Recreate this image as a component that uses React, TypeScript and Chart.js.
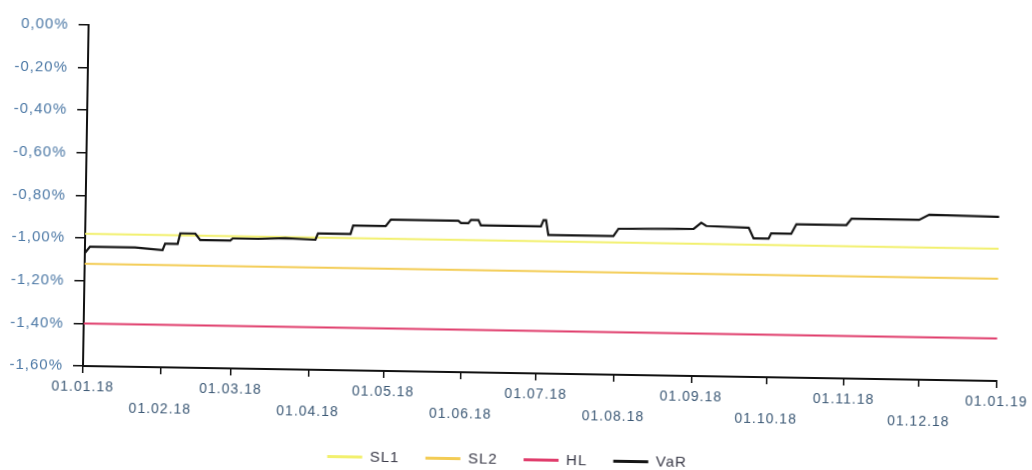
import { useEffect, useRef } from 'react';
import { Chart, registerables } from 'chart.js';

Chart.register(...registerables);

const monthLabels = ['01.01.18', '01.02.18', '01.03.18', '01.04.18', '01.05.18', '01.06.18', '01.07.18', '01.08.18', '01.09.18', '01.10.18', '01.11.18', '01.12.18', '01.01.19'];
const monthDays = [0, 31, 59, 90, 120, 151, 181, 212, 243, 273, 304, 334, 365];

const sl1Value = -0.98;
const sl2Value = -1.12;
const hlValue = -1.4;

const varDays = [0, 2, 20, 31, 32, 37, 38, 44, 46, 58, 59, 69, 80, 92, 93, 106, 107, 120, 122, 149, 150, 153, 154, 157, 158, 182, 183, 184, 185, 211, 213, 243, 246, 248, 265, 267, 273, 274, 282, 284, 304, 306, 333, 337, 365];
const varValues = [-1.07, -1.04, -1.04, -1.05, -1.02, -1.02, -0.97, -0.97, -1.0, -1.0, -0.99, -0.99, -0.985, -0.99, -0.96, -0.96, -0.92, -0.92, -0.89, -0.89, -0.9, -0.9, -0.885, -0.885, -0.91, -0.91, -0.88, -0.88, -0.95, -0.95, -0.915, -0.91, -0.88, -0.895, -0.9, -0.95, -0.95, -0.925, -0.925, -0.88, -0.88, -0.85, -0.85, -0.825, -0.83];

const FONT = "'Liberation Sans', Arial, sans-serif";

export default function App() {
  const ref = useRef<HTMLCanvasElement>(null);

  useEffect(() => {
    document.body.style.margin = '0';
    const limit = (v: number) => [{ x: monthDays[0], y: v }, { x: monthDays[monthDays.length - 1], y: v }];

    const setSpacing = (chart: any) => {
      try {
        chart.ctx.letterSpacing = '1px';
      } catch (e) {
        /* ignore */
      }
    };

    const helpers = {
      id: 'helpers',
      beforeUpdate(chart: any) {
        setSpacing(chart);
      },
      beforeLayout(chart: any) {
        setSpacing(chart);
      },
      beforeDraw(chart: any) {
        setSpacing(chart);
      },
      afterLayout(chart: any) {
        const l = chart.legend;
        if (!l) return;
        const dx = 508.5 - (l.left + l.right) / 2;
        l.left += dx;
        l.right += dx;
      },
    };

    const chart = new Chart(ref.current as HTMLCanvasElement, {
      type: 'line',
      data: {
        datasets: [
          { label: 'SL1', data: limit(sl1Value), borderColor: '#f2f06e', backgroundColor: '#f2f06e', borderWidth: 2, pointRadius: 0 },
          { label: 'SL2', data: limit(sl2Value), borderColor: '#f3cc55', backgroundColor: '#f3cc55', borderWidth: 2, pointRadius: 0 },
          { label: 'HL', data: limit(hlValue), borderColor: '#e03d6c', backgroundColor: '#e03d6c', borderWidth: 2, pointRadius: 0 },
          {
            label: 'VaR',
            data: varDays.map((d, i) => ({ x: d, y: varValues[i] })),
            borderColor: '#151515',
            backgroundColor: '#151515',
            borderWidth: 2.2,
            pointRadius: 0,
            order: -1,
          },
        ],
      },
      options: {
        animation: false,
        responsive: true,
        maintainAspectRatio: false,
        layout: { padding: { top: 25, right: 34, left: 0, bottom: 0 } },
        plugins: {
          tooltip: { enabled: false },
          legend: {
            position: 'bottom',
            labels: {
              boxWidth: 35,
              boxHeight: 3,
              padding: 26,
              color: '#3a3a48',
              font: { size: 15, family: FONT },
              generateLabels: (c: any) =>
                (Chart.defaults.plugins.legend.labels.generateLabels as any)(c).map((it: any) => ({ ...it, lineWidth: 0 })),
              sort: (a: any, b: any) => a.datasetIndex - b.datasetIndex,
            },
          },
        },
        scales: {
          x: {
            type: 'linear',
            min: monthDays[0],
            max: monthDays[monthDays.length - 1],
            afterBuildTicks: (s: any) => {
              s.ticks = monthDays.map((v) => ({ value: v }));
            },
            afterFit: (s: any) => {
              s.height = 53;
            },
            grid: { display: true, drawOnChartArea: false, drawTicks: true, tickLength: 7, color: '#111', lineWidth: 1.5 },
            border: { display: true, color: '#111', width: 2 },
            ticks: {
              autoSkip: false,
              maxRotation: 0,
              minRotation: 0,
              padding: 4,
              color: '#3b5875',
              font: { size: 14, family: FONT, lineHeight: 1.5 },
              callback: (_v: any, i: number) => (i % 2 ? ['', monthLabels[i]] : monthLabels[i]),
            },
          },
          y: {
            min: -1.6,
            max: 0,
            afterFit: (s: any) => {
              s.width = 83;
            },
            grid: { display: true, drawOnChartArea: false, drawTicks: true, tickLength: 10, color: '#111', lineWidth: 1.5 },
            border: { display: true, color: '#111', width: 2 },
            ticks: {
              stepSize: 0.2,
              padding: 10,
              color: '#4d79a6',
              font: { size: 15, family: FONT },
              callback: (v: any) => (Math.round(Number(v) * 100) / 100).toFixed(2).replace('.', ',') + '%',
            },
          },
        },
      },
      plugins: [helpers],
    } as any);

    return () => chart.destroy();
  }, []);

  return (
    <div style={{ position: 'relative', width: 1032, height: 470, overflow: 'hidden', background: '#fff' }}>
      <div
        style={{
          position: 'absolute',
          left: 0,
          top: 0,
          width: 1032,
          height: 470,
          transform: 'rotate(0.94deg)',
          transformOrigin: '83px 366px',
        }}
      >
        <canvas ref={ref} />
      </div>
    </div>
  );
}
